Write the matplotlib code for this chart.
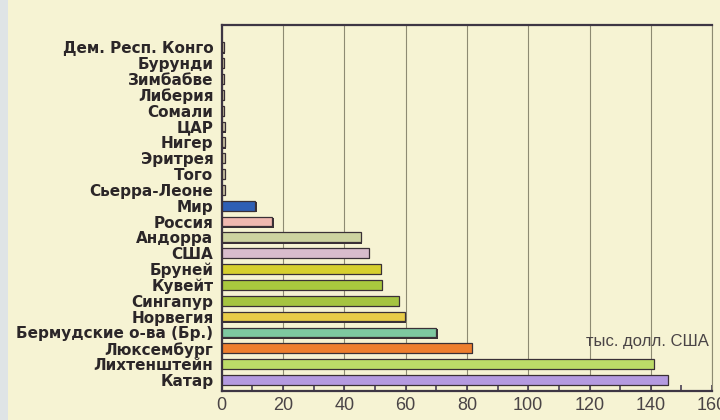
import matplotlib.pyplot as plt
from matplotlib.patches import Rectangle
from matplotlib.ticker import MultipleLocator
import numpy as np

# GDP per capita, thousand USD
countries = ['Дем. Респ. Конго', 'Бурунди', 'Зимбабве', 'Либерия', 'Сомали', 'ЦАР',
             'Нигер', 'Эритрея', 'Того', 'Сьерра-Леоне', 'Мир', 'Россия', 'Андорра',
             'США', 'Бруней', 'Кувейт', 'Сингапур', 'Норвегия',
             'Бермудские о-ва (Бр.)', 'Люксембург', 'Лихтенштейн', 'Катар']
values = [0.8, 0.8, 0.8, 0.8, 0.8, 0.9, 0.9, 0.9, 1.0, 1.0, 11.0, 16.5, 45.5,
          48.0, 51.8, 52.3, 57.8, 59.8, 70.0, 81.5, 141.0, 145.5]
colors = ['#c9c2a2'] * 10 + ['#2f5fb5', '#f0b8b0', '#cdd3a0', '#d8bccc', '#d6cf2e',
                             '#a9c83e', '#a5c440', '#e8cc48', '#7ec8a0', '#ee7e2e',
                             '#bcdc68', '#b49ae0']
xticks = [0, 20, 40, 60, 80, 100, 120, 140, 160]
unit_label = 'тыс. долл. США'

bg = '#f6f3d3'
plt.rcParams['font.family'] = ['Liberation Sans', 'DejaVu Sans']

fig = plt.figure(figsize=(7.2, 4.2), dpi=100, facecolor=bg)
# scanner edge on the far left
fig.patches.append(Rectangle((0, 0), 0.011, 1, transform=fig.transFigure,
                             facecolor='#dfe4e6', edgecolor='none', zorder=0))
ax = fig.add_axes([0.308, 0.069, 0.681, 0.871])
ax.set_facecolor(bg)

n = len(countries)
y = np.arange(n)[::-1]
# dark shadow under each bar, then the coloured bar
ax.barh(y - 0.08, values, height=0.62, left=0.4, color='#3a3036', zorder=2)
ax.barh(y, values, height=0.62, color=colors, edgecolor='#3a3036',
        linewidth=0.9, zorder=3)

ax.set_xlim(0, 160)
ax.set_ylim(-0.7, n - 1 + 1.4)
ax.set_yticks(y)
ax.set_yticklabels(countries, fontsize=11, fontweight='bold', color='#2b2628',
                   family='DejaVu Sans')
ax.tick_params(axis='y', length=0, pad=6)
ax.set_xticks(xticks)
ax.set_xticklabels([str(t) for t in xticks], fontsize=13, color='#4a4446')
ax.xaxis.set_minor_locator(MultipleLocator(10))
ax.tick_params(axis='x', which='both', direction='in', length=4, width=1.2,
               color='#4a3f55', pad=4)
ax.grid(axis='x', color='#8d8a72', linewidth=0.8, zorder=1)

for side in ['left', 'top', 'bottom']:
    ax.spines[side].set_color('#3e3644')
    ax.spines[side].set_linewidth(1.6)
ax.spines['right'].set_color('#8d8a72')
ax.spines['right'].set_linewidth(0.8)

ax.text(0.993, 0.135, unit_label, transform=ax.transAxes, ha='right', va='center',
        fontsize=12, color='#4a4446')

fig.savefig('out.png', dpi=100, facecolor=bg)
